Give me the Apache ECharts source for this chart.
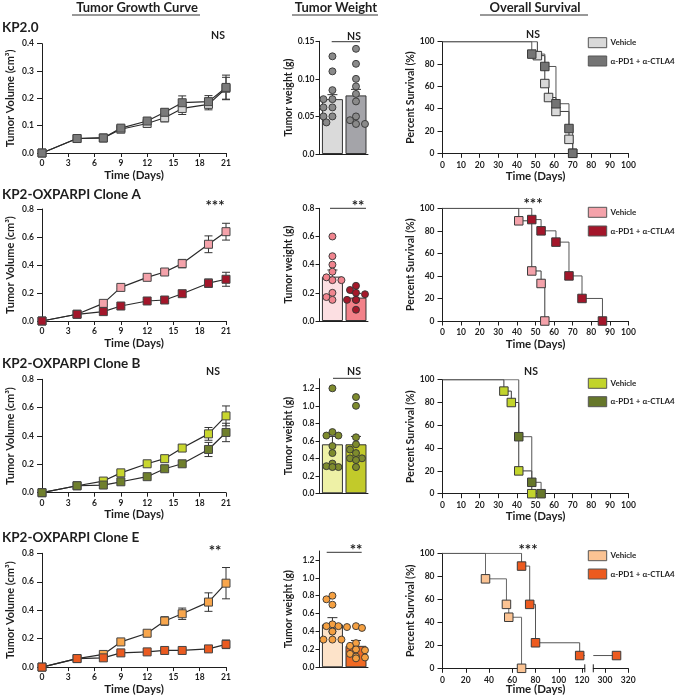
<!DOCTYPE html>
<html><head><meta charset="utf-8">
<script src="https://cdn.jsdelivr.net/npm/echarts@6/dist/echarts.min.js"></script>
<style>html,body{margin:0;padding:0;background:#fff}#c{width:676px;height:696px}</style>
</head><body><div id="c"></div>
<script>
// ================= DATA =================
const days = [0, 4, 7, 9, 12, 14, 16, 19, 21];
const rowTitles = ['KP2.0', 'KP2-OXPARPI Clone A', 'KP2-OXPARPI Clone B', 'KP2-OXPARPI Clone E'];
const colHeaders = ['Tumor Growth Curve', 'Tumor Weight', 'Overall Survival'];
const groupNames = ['Vehicle', 'α-PD1 + α-CTLA4'];
const sigGrowth = ['NS', '***', 'NS', '**'];
const sigWeight = ['NS', '**', 'NS', '**'];
const sigSurv = ['NS', '***', 'NS', '***'];

// growth curves (cm³) mean and SEM
const growthVeh1 = [0, 0.053, 0.055, 0.087, 0.108, 0.129, 0.163, 0.178, 0.237];
const growthVehSem1 = [0, 0.003, 0.003, 0.006, 0.012, 0.015, 0.022, 0.02, 0.04];
const growthTrt1 = [0, 0.053, 0.055, 0.091, 0.117, 0.149, 0.184, 0.188, 0.240];
const growthTrtSem1 = [0, 0.003, 0.003, 0.006, 0.01, 0.012, 0.025, 0.022, 0.045];

const growthVeh2 = [0, 0.048, 0.126, 0.24, 0.312, 0.35, 0.41, 0.548, 0.638];
const growthVehSem2 = [0, 0.005, 0.01, 0.01, 0.01, 0.012, 0.03, 0.06, 0.06];
const growthTrt2 = [0, 0.048, 0.067, 0.107, 0.143, 0.15, 0.195, 0.27, 0.298];
const growthTrtSem2 = [0, 0.005, 0.008, 0.01, 0.01, 0.01, 0.02, 0.03, 0.05];

const growthVeh3 = [0, 0.049, 0.082, 0.14, 0.204, 0.24, 0.315, 0.415, 0.542];
const growthVehSem3 = [0, 0.004, 0.01, 0.015, 0.015, 0.015, 0.02, 0.045, 0.07];
const growthTrt3 = [0, 0.049, 0.054, 0.077, 0.113, 0.169, 0.204, 0.305, 0.425];
const growthTrtSem3 = [0, 0.004, 0.006, 0.01, 0.01, 0.012, 0.015, 0.05, 0.065];

const growthVeh4 = [0, 0.06, 0.089, 0.177, 0.238, 0.324, 0.375, 0.457, 0.59];
const growthVehSem4 = [0, 0.005, 0.01, 0.015, 0.015, 0.03, 0.04, 0.065, 0.11];
const growthTrt4 = [0, 0.06, 0.065, 0.10, 0.107, 0.117, 0.117, 0.128, 0.16];
const growthTrtSem4 = [0, 0.005, 0.008, 0.01, 0.01, 0.01, 0.01, 0.01, 0.03];

// tumor weight (g): individual tumors, bar mean and SEM [vehicle, treated]
const weightVeh1 = [0.13, 0.11, 0.085, 0.073, 0.073, 0.062, 0.062, 0.05, 0.05, 0.042];
const weightTrt1 = [0.14, 0.12, 0.10, 0.09, 0.08, 0.07, 0.05, 0.045, 0.04, 0.04];
const weightMean1 = [0.073, 0.078];
const weightSem1 = [0.006, 0.008];

const weightVeh2 = [0.60, 0.46, 0.40, 0.35, 0.31, 0.29, 0.29, 0.20, 0.17, 0.15];
const weightTrt2 = [0.25, 0.22, 0.20, 0.19, 0.15, 0.15, 0.15, 0.08];
const weightMean2 = [0.315, 0.166];
const weightSem2 = [0.047, 0.03];

const weightVeh3 = [1.2, 0.70, 0.66, 0.66, 0.54, 0.46, 0.34, 0.31, 0.30, 0.30];
const weightTrt3 = [1.10, 1.00, 0.64, 0.56, 0.50, 0.46, 0.40, 0.40, 0.38, 0.30];
const weightMean3 = [0.56, 0.56];
const weightSem3 = [0.09, 0.09];

const weightVeh4 = [0.80, 0.76, 0.70, 0.48, 0.46, 0.46, 0.40, 0.40, 0.31, 0.31, 0.31];
const weightTrt4 = [0.46, 0.44, 0.45, 0.27, 0.24, 0.20, 0.19, 0.15, 0.12, 0.11, 0.10];
const weightMean4 = [0.48, 0.24];
const weightSem4 = [0.075, 0.06];

// survival (Kaplan-Meier): event times (days) and percent surviving after each step
const survVehT1 = [0, 51, 55, 57, 61, 68, 70];
const survVehS1 = [100, 87.5, 62.5, 50, 37.5, 12.5, 0];
const survTrtT1 = [0, 48, 55, 61, 68, 70];
const survTrtS1 = [100, 88.9, 77.8, 44.4, 22.2, 0];

const survVehT2 = [0, 41, 48, 53, 55];
const survVehS2 = [100, 88.9, 44.4, 33.3, 0];
const survTrtT2 = [0, 48, 53, 61, 68, 75, 86];
const survTrtS2 = [100, 90, 80, 70, 40, 20, 0];

const survVehT3 = [0, 33, 37, 41, 48];
const survVehS3 = [100, 90, 80, 20, 0];
const survTrtT3 = [0, 41, 48, 53];
const survTrtS3 = [100, 50, 10, 0];

const survVehT4 = [0, 37, 55, 57, 68];
const survVehS4 = [100, 77.8, 55.6, 44.4, 0];
const survTrtT4 = [0, 68, 75, 80, 118, 310];
const survTrtS4 = [100, 88.9, 55.6, 22.2, 11.1, 11.1];

// axis ranges / ticks
const growthMax = [0.4, 0.8, 0.8, 0.8];
const growthStep = [0.1, 0.2, 0.2, 0.2];
const weightMax = [0.15, 0.8, 1.31, 1.3];
const weightStep = [0.05, 0.2, 0.2, 0.2];
const weightTicks = [[0, 0.05, 0.10, 0.15], [0, 0.2, 0.4, 0.6, 0.8], [0, 0.2, 0.4, 0.6, 0.8, 1.0, 1.2], [0, 0.2, 0.4, 0.6, 0.8, 1.0, 1.2]];
const survTicksA = [0, 20, 40, 60, 80, 100, 120];
const survTicksB = [300, 320];
const survBreak = [122.4, 290, 320];

// colours
const colGrowth = [['#d6d6d6', '#7a7a7a'], ['#f4a2aa', '#a3162a'], ['#c8d62d', '#6f7f2c'], ['#f8a64c', '#ea5a20']];
const colBar = [['#dadada', '#a4a4a9'], ['#fcdfe2', '#f28189'], ['#eef1a6', '#c2ca2a'], ['#fde3c9', '#f16a24']];
const colDot = [['#8a8a8a', '#8a8a8a'], ['#f0848e', '#a5182a'], ['#7e8b2d', '#7e8b2d'], ['#f5a041', '#f5a041']];
const colKm = [['#d9d9d9', '#747474'], ['#f4a2aa', '#a3162a'], ['#c2d42b', '#66772a'], ['#fbc393', '#ec5a1f']];

// ================= BUILD =================
const FONT = 'Lato, "Liberation Sans", sans-serif';
const INK = '#1e1e1e';
const G = { left: 42, width: 184, tops: [43.7, 209, 379.3, 553.3], bottoms: [153, 321, 492.7, 667.7] };
const W = { left: 319, width: 49, tops: [41.3, 208.3, 378.7, 551], bottoms: [154, 321, 493.3, 667.3], xmin: -0.57, xmax: 1.51 };
const S = { left: 442.5, width: 186, tops: [41.7, 208.3, 379.7, 553.3], bottoms: [153.3, 321, 493.7, 668.3] };

const growth = [
  [growthVeh1, growthVehSem1, growthTrt1, growthTrtSem1],
  [growthVeh2, growthVehSem2, growthTrt2, growthTrtSem2],
  [growthVeh3, growthVehSem3, growthTrt3, growthTrtSem3],
  [growthVeh4, growthVehSem4, growthTrt4, growthTrtSem4]];
const weights = [
  [weightVeh1, weightTrt1, weightMean1, weightSem1],
  [weightVeh2, weightTrt2, weightMean2, weightSem2],
  [weightVeh3, weightTrt3, weightMean3, weightSem3],
  [weightVeh4, weightTrt4, weightMean4, weightSem4]];
const surv = [
  [survVehT1, survVehS1, survTrtT1, survTrtS1],
  [survVehT2, survVehS2, survTrtT2, survTrtS2],
  [survVehT3, survVehS3, survTrtT3, survTrtS3],
  [survVehT4, survVehS4, survTrtT4, survTrtS4]];

const grids = [], xAxes = [], yAxes = [], series = [], graphics = [];

function axisStyle(tickLen, margin) {
  return {
    axisLine: { show: true, onZero: false, lineStyle: { color: INK, width: 1 } },
    axisTick: { show: true, length: tickLen, lineStyle: { color: INK, width: 1 } },
    axisLabel: { color: INK, fontSize: 8.5, fontWeight: 'bold', fontFamily: FONT, margin: margin },
    splitLine: { show: false },
    nameTextStyle: { color: INK, fontSize: 10.5, fontWeight: 'bold', fontFamily: FONT }
  };
}
function addGrid(left, top, width, height) {
  grids.push({ left, top, width, height, containLabel: false });
  return grids.length - 1;
}
function errRender(upOnly, cap) {
  return function (params, api) {
    const x = api.value(0), y = api.value(1), e = api.value(2);
    if (!e) return null;
    const hi = api.coord([x, y + e]);
    const lo = api.coord([x, upOnly ? y : y - e]);
    const st = { stroke: '#333', lineWidth: 1 };
    const ch = [
      { type: 'line', shape: { x1: hi[0], y1: hi[1], x2: lo[0], y2: lo[1] }, style: st },
      { type: 'line', shape: { x1: hi[0] - cap, y1: hi[1], x2: hi[0] + cap, y2: hi[1] }, style: st }];
    if (!upOnly) ch.push({ type: 'line', shape: { x1: lo[0] - cap, y1: lo[1], x2: lo[0] + cap, y2: lo[1] }, style: st });
    return { type: 'group', children: ch };
  };
}
function swarm(values, center, pxPerY, pxPerX) {
  const placed = [], out = [];
  const order = values.map((v, i) => i).sort((a, b) => values[b] - values[a]);
  const cands = [0, -6, 6, -3, 3, -9, 9];
  for (const i of order) {
    const py = values[i] * pxPerY;
    let off = 0;
    for (const c of cands) {
      if (placed.every(p => Math.hypot(p.x - c, p.y - py) >= 6.2)) { off = c; break; }
    }
    placed.push({ x: off, y: py });
    out.push([center + off / pxPerX, values[i]]);
  }
  return out;
}
function kmData(T, Sv, keep) {
  const d = [];
  T.forEach((t, i) => { if (keep(t)) d.push({ value: [t, Sv[i]], symbol: i === 0 ? 'none' : 'rect' }); });
  return d;
}
function kmSeries(xi, yi, data, fill, line) {
  return {
    type: 'line', xAxisIndex: xi, yAxisIndex: yi, step: 'end', data,
    symbol: 'rect', symbolSize: 8.5, showSymbol: true, animation: false,
    lineStyle: { color: line, width: 1 },
    itemStyle: { color: fill, borderColor: '#3a3a3a', borderWidth: 1 }, z: 3
  };
}

for (let r = 0; r < 4; r++) {
  // ---------- growth ----------
  let gi = addGrid(G.left, G.tops[r], G.width, G.bottoms[r] - G.tops[r]);
  xAxes.push(Object.assign(axisStyle(4, 6), {
    type: 'value', gridIndex: gi, min: 0, max: 21, interval: 3,
    name: 'Time (Days)', nameLocation: 'middle', nameGap: 14,
  }));
  xAxes[xAxes.length - 1].nameTextStyle.fontSize = 11.5;
  yAxes.push(Object.assign(axisStyle(5, 8), {
    type: 'value', gridIndex: gi, min: 0, max: growthMax[r], interval: growthStep[r],
    name: 'Tumor Volume (cm³)', nameLocation: 'middle', nameGap: 26,
  }));
  yAxes[yAxes.length - 1].axisLabel.formatter = v => v.toFixed(1);
  yAxes[yAxes.length - 1].nameTextStyle.fontSize = 11;
  const xi = xAxes.length - 1, yi = yAxes.length - 1;
  const [gv, gvs, gt, gts] = growth[r];
  [[gv, gvs, 0], [gt, gts, 1]].forEach(([m, s, k]) => {
    series.push({
      type: 'custom', xAxisIndex: xi, yAxisIndex: yi, renderItem: errRender(false, 4),
      data: days.map((d, i) => [d, m[i], s[i]]), z: 2, animation: false
    });
  });
  [[gv, 0], [gt, 1]].forEach(([m, k]) => {
    series.push({
      type: 'line', xAxisIndex: xi, yAxisIndex: yi, data: days.map((d, i) => [d, m[i]]),
      symbol: 'rect', symbolSize: 8, animation: false,
      lineStyle: { color: '#2a2a2a', width: 1.2 },
      itemStyle: { color: colGrowth[r][k], borderColor: '#444', borderWidth: 1 }, z: 3
    });
  });

  // ---------- weight ----------
  const wh = W.bottoms[r] - W.tops[r];
  gi = addGrid(W.left, W.tops[r], W.width, wh);
  xAxes.push(Object.assign(axisStyle(0, 0), {
    type: 'value', gridIndex: gi, min: W.xmin, max: W.xmax,
  }));
  xAxes[xAxes.length - 1].axisTick.show = false;
  xAxes[xAxes.length - 1].axisLabel.show = false;
  yAxes.push(Object.assign(axisStyle(3.5, 4.5), {
    type: 'value', gridIndex: gi, min: 0, max: weightMax[r], interval: weightStep[r],
    name: 'Tumor weight (g)', nameLocation: 'middle', nameGap: 25,
  }));
  const ya = yAxes[yAxes.length - 1];
  ya.axisLabel.formatter = v => {
    const ok = weightTicks[r].some(t => Math.abs(t - v) < 1e-6);
    if (!ok) return '';
    return r === 0 ? (v === 0 ? '0.0' : v.toFixed(2)) : v.toFixed(1);
  };
  ya.axisLabel.customValues = weightTicks[r];
  ya.axisTick.customValues = weightTicks[r];
  const wxi = xAxes.length - 1, wyi = yAxes.length - 1;
  const [wv, wt, wm, ws] = weights[r];
  series.push({
    type: 'bar', xAxisIndex: wxi, yAxisIndex: wyi, barWidth: 21, animation: false,
    data: wm.map((m, k) => ({ value: [k, m], itemStyle: { color: colBar[r][k] } })),
    itemStyle: { borderColor: '#333', borderWidth: 1 }, z: 1
  });
  series.push({
    type: 'custom', xAxisIndex: wxi, yAxisIndex: wyi, renderItem: errRender(true, 5),
    data: wm.map((m, k) => [k, m, ws[k]]), z: 2, animation: false
  });
  const pxY = wh / weightMax[r], pxX = W.width / (W.xmax - W.xmin);
  [[wv, 0], [wt, 1]].forEach(([vals, k]) => {
    series.push({
      type: 'scatter', xAxisIndex: wxi, yAxisIndex: wyi, data: swarm(vals, k, pxY, pxX),
      symbol: 'circle', symbolSize: 7, animation: false,
      itemStyle: { color: colDot[r][k], borderColor: '#333', borderWidth: 0.9, opacity: 1 }, z: 4
    });
  });

  // ---------- survival ----------
  const sh = S.bottoms[r] - S.tops[r];
  const [vt, vs, tt, ts] = surv[r];
  if (r < 3) {
    gi = addGrid(S.left, S.tops[r], S.width, sh);
    xAxes.push(Object.assign(axisStyle(4.5, 7), {
      type: 'value', gridIndex: gi, min: 0, max: 100, interval: 10,
      name: 'Time (Days)', nameLocation: 'middle', nameGap: 14,
    }));
    xAxes[xAxes.length - 1].nameTextStyle.fontSize = 11.5;
    yAxes.push(Object.assign(axisStyle(5, 8), {
      type: 'value', gridIndex: gi, min: 0, max: 100, interval: 20,
      name: 'Percent Survival (%)', nameLocation: 'middle', nameGap: 22,
    }));
    const sxi = xAxes.length - 1, syi = yAxes.length - 1;
    series.push(kmSeries(sxi, syi, kmData(vt, vs, () => true), colKm[r][0], '#3a3a3a'));
    series.push(kmSeries(sxi, syi, kmData(tt, ts, () => true), colKm[r][1], '#555'));
  } else {
    const pxPer = S.width / 160; // same scale for both segments
    const wA = survBreak[0] * pxPer;
    const leftB = S.left + wA + 8.5;
    const wB = (survBreak[2] - survBreak[1]) * pxPer;
    // segment A
    gi = addGrid(S.left, S.tops[r], wA, sh);
    xAxes.push(Object.assign(axisStyle(4.5, 7), {
      type: 'value', gridIndex: gi, min: 0, max: survBreak[0], interval: 20,
    }));
    let xa = xAxes[xAxes.length - 1];
    xa.axisLabel.customValues = survTicksA; xa.axisTick.customValues = survTicksA;
    xa.axisLabel.formatter = v => (v % 20 === 0 ? String(v) : '');
    yAxes.push(Object.assign(axisStyle(5, 8), {
      type: 'value', gridIndex: gi, min: 0, max: 100, interval: 20,
      name: 'Percent Survival (%)', nameLocation: 'middle', nameGap: 22,
    }));
    let sxi = xAxes.length - 1, syi = yAxes.length - 1;
    series.push(kmSeries(sxi, syi, kmData(vt, vs, t => t <= survBreak[0]), colKm[r][0], '#666'));
    const dA = kmData(tt, ts, t => t <= survBreak[0]);
    dA.push({ value: [survBreak[0], dA[dA.length - 1].value[1]], symbol: 'none' });
    series.push(kmSeries(sxi, syi, dA, colKm[r][1], '#555'));
    // segment B
    gi = addGrid(leftB, S.tops[r], wB, sh);
    xAxes.push(Object.assign(axisStyle(4.5, 7), {
      type: 'value', gridIndex: gi, min: survBreak[1], max: survBreak[2], interval: 10,
    }));
    xa = xAxes[xAxes.length - 1];
    xa.axisLabel.customValues = survTicksB; xa.axisTick.customValues = survTicksB;
    xa.axisLabel.formatter = v => (v % 20 === 0 ? String(v) : '');
    yAxes.push({ type: 'value', gridIndex: gi, min: 0, max: 100, show: false });
    sxi = xAxes.length - 1; syi = yAxes.length - 1;
    const lastA = dA[dA.length - 1].value[1];
    const dB = [{ value: [survBreak[1], lastA], symbol: 'none' }].concat(kmData(tt, ts, t => t > survBreak[1]));
    series.push(kmSeries(sxi, syi, dB, colKm[r][1], '#555'));
    // break marks + shared axis title
    const yb = S.bottoms[r];
    [S.left + wA, leftB].forEach(xb => graphics.push({ type: 'line', shape: { x1: xb, y1: yb - 4, x2: xb, y2: yb + 4 }, style: { stroke: INK, lineWidth: 1 } }));
    graphics.push({ type: 'text', x: S.left + S.width / 2, y: yb + 21, style: { text: 'Time (Days)', font: 'bold 11.5px ' + FONT, fill: INK, align: 'center', verticalAlign: 'middle' } });
  }

  // ---------- legend ----------
  const legY = [[37.7, 56], [207.3, 226], [378.3, 396.7], [550.7, 569]][r];
  [0, 1].forEach(k => {
    graphics.push({ type: 'rect', shape: { x: 588.3, y: legY[k], width: 18.4, height: 10 }, style: { fill: colKm[r][k], stroke: '#555', lineWidth: 1 } });
    graphics.push({ type: 'text', x: 610.5, y: legY[k] + 5, style: { text: groupNames[k], font: 'bold 8px ' + FONT, fill: INK, align: 'left', verticalAlign: 'middle' } });
  });
}

// ---------- texts ----------
function txt(t, x, y, size, align) {
  graphics.push({ type: 'text', x, y, style: { text: t, font: 'bold ' + size + 'px ' + FONT, fill: INK, align: align || 'center', verticalAlign: 'middle' } });
}
function hline(x1, x2, y, w) {
  graphics.push({ type: 'line', shape: { x1, y1: y, x2, y2: y }, style: { stroke: '#333', lineWidth: w || 1 } });
}
txt(colHeaders[0], 137, 8, 13); hline(72, 200, 15);
txt(colHeaders[1], 336, 8, 13); hline(292, 378, 15);
txt(colHeaders[2], 535, 8, 13); hline(480, 588, 15);
const titleY = [28, 195, 364, 538];
rowTitles.forEach((t, r) => txt(t, 2, titleY[r], 13.5, 'left'));

const sigPos = [
  [[218, 36], [354, 36.5], [533, 35]],
  [[215, 203], [358, 203], [533, 201]],
  [[213, 372], [354, 372], [531, 372]],
  [[215, 548], [356, 547], [528, 547]]];
const sigLines = [[331.7, 360, 41.7], [330, 366, 208.3], [333, 361, 378.3], [326.7, 361.7, 552.3]];
for (let r = 0; r < 4; r++) {
  [sigGrowth[r], sigWeight[r], sigSurv[r]].forEach((s, c) => {
    const star = s.indexOf('*') >= 0;
    txt(s, sigPos[r][c][0], sigPos[r][c][1] + (star ? 3.5 : 0), star ? 15 : 10.5);
  });
  hline(sigLines[r][0], sigLines[r][1], sigLines[r][2], 1);
}

const chart = echarts.init(document.getElementById('c'), null, { renderer: 'canvas' });
chart.setOption({
  backgroundColor: '#fff', animation: false,
  grid: grids, xAxis: xAxes, yAxis: yAxes, series, graphic: graphics
});
</script></body></html>
